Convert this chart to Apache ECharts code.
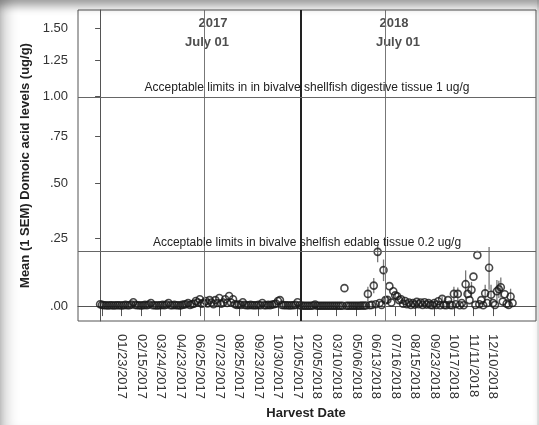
<!DOCTYPE html>
<html>
<head>
<meta charset="utf-8">
<script src="https://cdn.jsdelivr.net/npm/echarts@6/dist/echarts.min.js"></script>
<style>
html,body{margin:0;padding:0;background:#fff;}
#wrap{position:relative;width:539px;height:425px;overflow:hidden;}
#chart{width:539px;height:425px;}
#shade{position:absolute;left:0;top:0;width:539px;height:425px;pointer-events:none;
 box-shadow: inset 0 9px 10px -3px rgba(0,0,0,0.38), inset 16px 0 14px -10px rgba(0,0,0,0.22);}
#rightshade{position:absolute;left:537px;top:0;width:2px;height:425px;background:#eee;pointer-events:none;}
</style>
</head>
<body>
<div id="wrap"><div id="chart"></div><div id="rightshade"></div><div id="shade"></div></div>
<script>
// Tick labels of the harvest-date axis and their category positions
const tickLabels = ['', '01/23/2017','02/15/2017','03/24/2017','04/23/2017','06/25/2017','07/23/2017','08/25/2017','09/23/2017','10/30/2017','12/05/2017','02/05/2018','03/10/2018','05/06/2018','06/13/2018','07/16/2018','08/15/2018','09/23/2018','10/17/2018','11/11/2018','12/10/2018'];
const tickIndex = [1,11,21,31,41,51,61,71,81,91,101,111,121,131,141,151,161,171,181,191,201];

// Y axis tick values (ug/g) and labels
const yTickValues = [0, 0.25, 0.5, 0.75, 1.0, 1.25, 1.5];
const yTickLabels = ['.00', '.25', '.50', '.75', '1.00', '1.25', '1.50'];

// Mean domoic acid level per harvest date (ug/g), in category order
const meanLevels = [
 0.006,0.004,0.003,0.003,0.002,0.003,0.003,0.002,0.003,0.003,
 0.003,0.002,0.003,0.004,0.003,0.003,0.005,0.013,0.004,0.003,
 0.003,0.002,0.003,0.004,0.003,0.005,0.010,0.003,0.003,0.002,
 0.003,0.003,0.004,0.003,0.005,0.010,0.003,0.003,0.004,0.003,
 0.003,0.002,0.004,0.005,0.006,0.010,0.004,0.006,0.008,0.017,
 0.012,0.023,0.008,0.010,0.017,0.009,0.020,0.012,0.006,0.020,
 0.010,0.027,0.008,0.012,0.023,0.010,0.034,0.012,0.023,0.006,
 0.004,0.005,0.004,0.013,0.004,0.003,0.003,0.004,0.003,0.003,
 0.003,0.004,0.003,0.010,0.003,0.003,0.004,0.003,0.005,0.006,
 0.008,0.017,0.020,0.004,0.003,0.003,0.003,0.002,0.003,0.003,
 0.004,0.013,0.003,0.002,0.001,0.001,0.001,0.001,0.001,0.002,
 0.005,0.001,0.001,0.001,0.001,0.001,0.001,0.001,0.001,0.001,
 0.001,0.001,0.001,0.001,0.001,0.061,0.001,0.001,0.001,0.001,
 0.001,0.001,0.001,0.001,0.002,0.001,0.002,0.041,0.003,0.004,
 0.070,0.006,0.196,0.010,0.004,0.126,0.020,0.021,0.068,0.012,
 0.050,0.036,0.033,0.020,0.023,0.008,0.017,0.006,0.012,0.004,
 0.010,0.005,0.014,0.006,0.012,0.004,0.013,0.005,0.010,0.004,
 0.003,0.010,0.004,0.016,0.003,0.024,0.004,0.003,0.020,0.004,
 0.003,0.041,0.006,0.041,0.003,0.010,0.003,0.075,0.041,0.020,
 0.055,0.102,0.004,0.183,0.006,0.020,0.003,0.043,0.010,0.135,
 0.038,0.010,0.004,0.050,0.057,0.064,0.015,0.040,0.008,0.004,
 0.032,0.010
];

// Standard error of the mean per harvest date (ug/g)
const semLevels = [
 0,0,0,0,0,0,0,0,0,0, 0,0,0,0,0,0,0,0,0,0,
 0,0,0,0,0,0,0,0,0,0, 0,0,0,0,0,0,0,0,0,0,
 0,0,0,0,0,0,0,0,0,0, 0,0,0,0,0,0,0,0,0,0,
 0,0,0,0,0,0,0,0,0,0, 0,0,0,0,0,0,0,0,0,0,
 0,0,0,0,0,0,0,0,0,0, 0,0,0,0,0,0,0,0,0,0,
 0,0,0,0,0,0,0,0,0,0, 0,0,0,0,0,0,0,0,0,0,
 0,0,0,0,0,0,0,0,0,0,
 0,0,0,0,0,0,0,0.025,0,0,
 0.027,0,0.04,0,0,0.04,0,0.01,0,0,
 0,0.01,0,0,0,0,0,0,0,0,
 0,0,0,0,0,0,0,0,0,0,
 0,0,0,0,0,0.008,0,0,0,0,
 0,0.025,0,0.022,0,0,0,0.05,0,0,
 0.028,0,0,0,0,0,0,0.03,0,0.08,
 0.035,0,0,0.04,0.03,0.035,0,0,0,0,
 0.027,0
];

// Reference lines
const limitLines = [
 {value: 1.0, label: 'Acceptable limits in in bivalve shellfish digestive tissue 1 ug/g'},
 {value: 0.2, label: 'Acceptable limits in bivalve shelfish edable tissue 0.2 ug/g'}
];
const july2017 = 53.2, yearBoundary = 102.6, july2018 = 145.8;

const T = v => Math.log1p(v);  // SPSS-like safe-log transform of the Y scale

const pts = meanLevels.map((v, i) => [i, T(v)]);
const bars = meanLevels.map((v, i) => [i, T(Math.max(v - semLevels[i], 0)), T(v + semLevels[i]), semLevels[i]]).filter(d => d[3] > 0);

const font = '"Liberation Sans", Arial, sans-serif';
const chart = echarts.init(document.getElementById('chart'), null, {renderer: 'canvas'});
chart.setOption({
 animation: false,
 backgroundColor: 'transparent',
 grid: {left: 78, right: 3, top: 10, bottom: 102, show: true, borderColor: '#555', borderWidth: 1, backgroundColor: '#fff'},
 xAxis: {
  type: 'value', min: -11.3, max: 223,
  name: 'Harvest Date', nameLocation: 'middle', nameGap: 86,
  nameTextStyle: {fontFamily: font, fontWeight: 'bold', fontSize: 13, color: '#222', padding: [0, 0, 0, -2]},
  axisLine: {show: true, lineStyle: {color: '#555', width: 1}},
  axisTick: {show: true, length: 10, lineStyle: {color: '#555'}, customValues: tickIndex},
  axisLabel: {show: true, rotate: -90, margin: 13, fontFamily: font, fontSize: 13, color: '#333',
   customValues: tickIndex, formatter: v => { const k = tickIndex.indexOf(Math.round(v)); return k >= 0 ? tickLabels[k] : ''; }},
  splitLine: {show: false}
 },
 yAxis: {
  type: 'value', min: -0.0492, max: 0.977,
  name: 'Mean (1 SEM) Domoic acid levels (ug/g)', nameLocation: 'middle', nameGap: 36,
  nameTextStyle: {fontFamily: font, fontWeight: 'bold', fontSize: 13, color: '#222'},
  axisLine: {show: true, lineStyle: {color: '#555', width: 1}},
  axisTick: {show: true, length: 5, lineStyle: {color: '#555'}, customValues: yTickValues.map(T)},
  axisLabel: {show: true, margin: 10, fontFamily: font, fontSize: 13, color: '#333',
   customValues: yTickValues.map(T),
   formatter: v => { let best = 0; yTickValues.forEach((t, k) => { if (Math.abs(T(t) - v) < Math.abs(T(yTickValues[best]) - v)) best = k; }); return yTickLabels[best]; }},
  splitLine: {show: false}
 },
 series: [
  {
   type: 'scatter', name: 'ref', data: [], silent: true,
   markLine: {
    silent: true, symbol: 'none', animation: false,
    data: [
     {xAxis: july2017, lineStyle: {color: '#777', width: 1, type: 'solid'}, label: {show: false}},
     {xAxis: july2018, lineStyle: {color: '#777', width: 1, type: 'solid'}, label: {show: false}},
     {xAxis: yearBoundary, lineStyle: {color: '#222', width: 2, type: 'solid'}, label: {show: false}},
     ...limitLines.map(l => ({yAxis: T(l.value), lineStyle: {color: '#666', width: 1, type: 'solid'},
       label: {show: true, position: 'insideMiddleTop', distance: 3, formatter: l.label, fontFamily: font, fontSize: 12, color: '#222'}}))
    ]
   }
  },
  {
   type: 'custom', name: 'sem', silent: true,
   data: bars,
   renderItem: (params, api) => {
    const a = api.coord([api.value(0), api.value(1)]);
    const b = api.coord([api.value(0), api.value(2)]);
    return {type: 'line', shape: {x1: a[0], y1: a[1], x2: b[0], y2: b[1]}, style: {stroke: '#777', lineWidth: 1.3}};
   },
   encode: {x: 0, y: [1, 2]}
  },
  {
   type: 'scatter', name: 'mean', data: pts, symbol: 'circle', symbolSize: 7, silent: true,
   itemStyle: {color: 'rgba(0,0,0,0)', borderColor: '#1a1a1a', borderWidth: 1.6}
  },
  {
   type: 'scatter', name: 'annot', silent: true, symbolSize: 1,
   itemStyle: {color: 'rgba(0,0,0,0)'},
   data: [
    [57.8, 0.934, '2017'], [54.7, 0.869, 'July 01'],
    [150.4, 0.934, '2018'], [152.4, 0.869, 'July 01']
   ],
   label: {show: true, position: 'inside', formatter: p => p.value[2], fontFamily: font, fontWeight: 'bold', fontSize: 13, color: '#222'}
  }
 ]
});
</script>
</body>
</html>
